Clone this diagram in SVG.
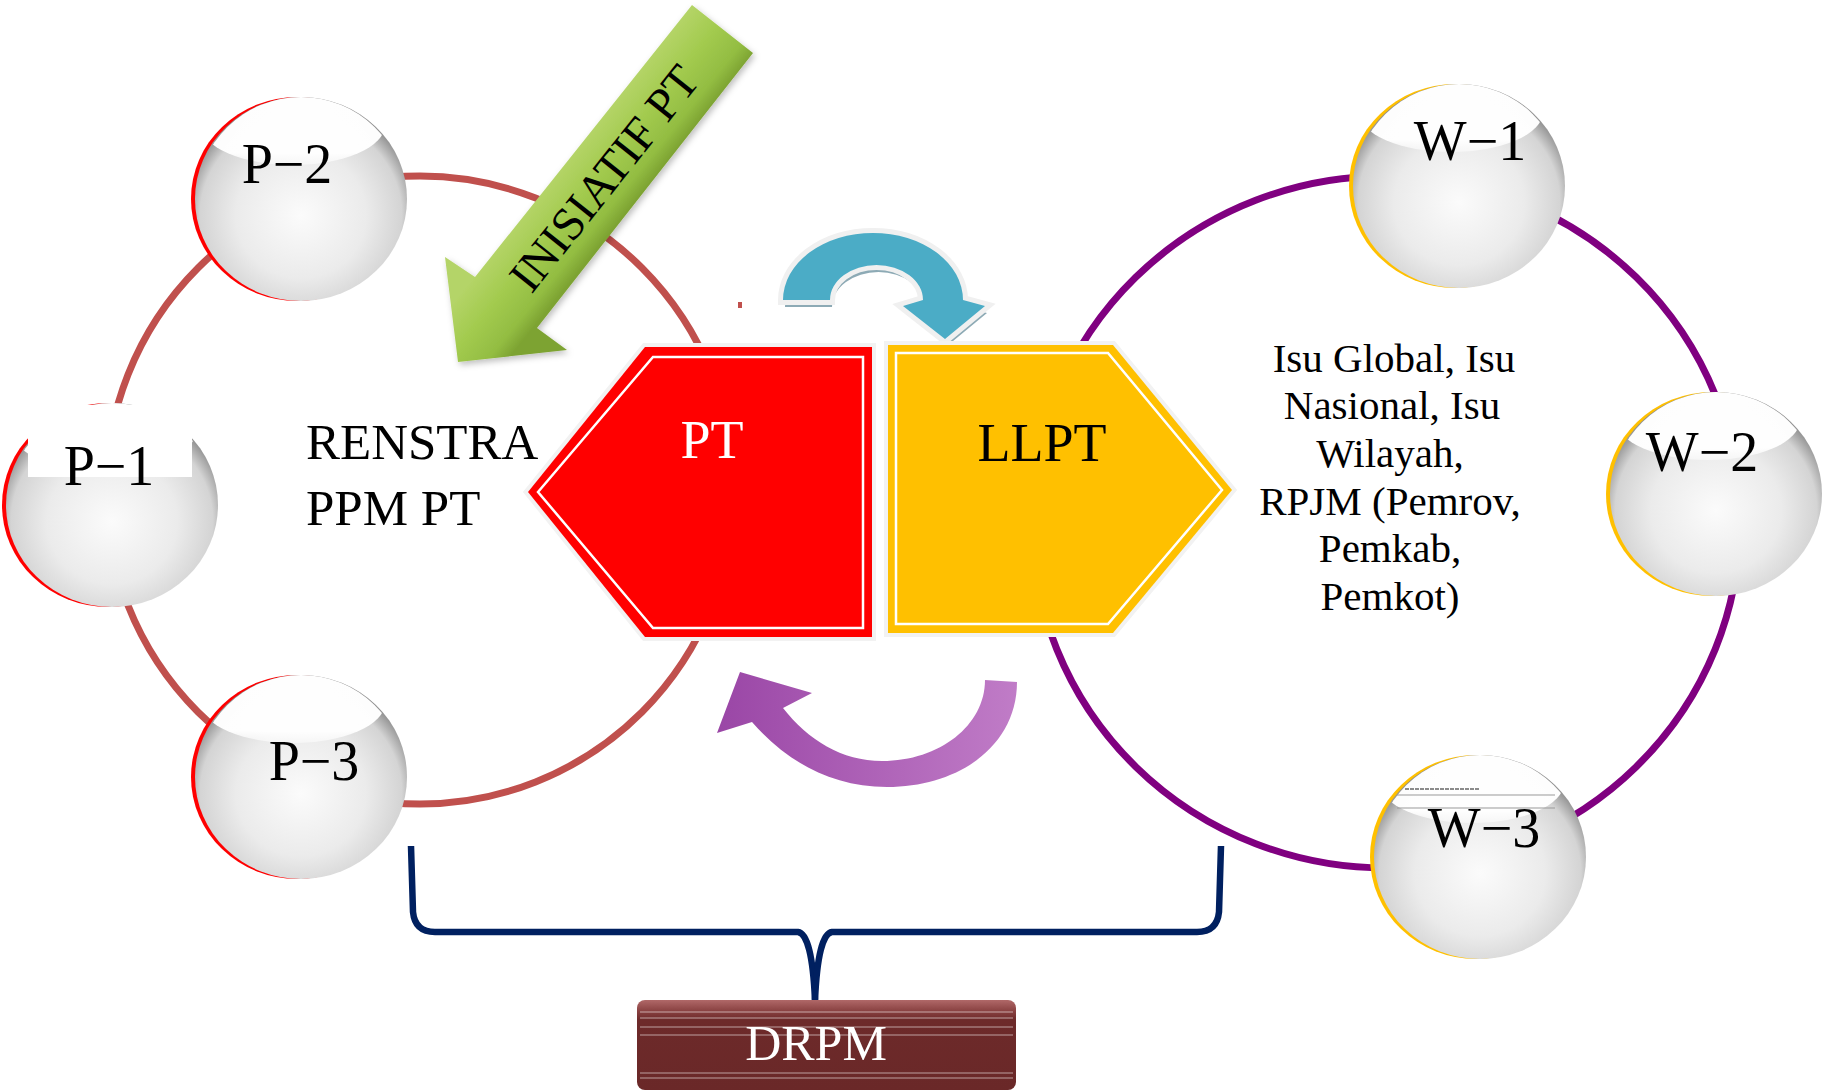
<svg xmlns="http://www.w3.org/2000/svg" xmlns:xlink="http://www.w3.org/1999/xlink" width="1823" height="1091" viewBox="0 0 1823 1091">
  <style>
    .serif { font-family: "Liberation Serif", "Times New Roman", serif; }
    .ball-label { font-family: "Liberation Serif", serif; font-size: 56px; fill: #000; text-anchor: middle; }
    .ring-p { fill: none; stroke: #C0504D; stroke-width: 7; }
    .ring-w { fill: none; stroke: #800080; stroke-width: 7; }
    .brace { fill: none; stroke: #002060; stroke-width: 6.5; stroke-linejoin: round; }
    .side-text { font-family: "Liberation Serif", serif; font-size: 41px; fill: #000; text-anchor: middle; }
    .stripe { stroke: #ffffff; stroke-opacity: 0.28; stroke-width: 2; }
  </style>
  <defs>
    <radialGradient id="ballGrad" cx="0.5" cy="0.58" r="0.56">
      <stop offset="0" stop-color="#fbfbfb"/>
      <stop offset="0.55" stop-color="#ebebeb"/>
      <stop offset="0.85" stop-color="#d4d4d4"/>
      <stop offset="1" stop-color="#8c8c8c"/>
    </radialGradient>
    <linearGradient id="hiGrad" x1="0" y1="0" x2="0" y2="1">
      <stop offset="0" stop-color="#ffffff" stop-opacity="1"/>
      <stop offset="0.85" stop-color="#ffffff" stop-opacity="0.97"/>
      <stop offset="1" stop-color="#ffffff" stop-opacity="0.5"/>
    </linearGradient>
    <clipPath id="ballClip">
      <ellipse cx="0" cy="0" rx="104" ry="102"/>
    </clipPath>
    <g id="ball">
      <ellipse cx="0" cy="0" rx="106" ry="102" fill="url(#ballGrad)"/>
      <ellipse cx="-8" cy="-74" rx="92" ry="40" fill="url(#hiGrad)" clip-path="url(#ballClip)"/>
    </g>
    <linearGradient id="greenGrad" gradientUnits="userSpaceOnUse" x1="576" y1="150" x2="637" y2="199">
      <stop offset="0" stop-color="#b4d467"/>
      <stop offset="0.4" stop-color="#a3cb4f"/>
      <stop offset="0.8" stop-color="#93bd42"/>
      <stop offset="1" stop-color="#7da332"/>
    </linearGradient>
    <linearGradient id="purpleGrad" x1="0" y1="0" x2="1" y2="0">
      <stop offset="0" stop-color="#9a46a6"/>
      <stop offset="1" stop-color="#c07cc7"/>
    </linearGradient>
    <linearGradient id="drpmGrad" x1="0" y1="0" x2="0" y2="1">
      <stop offset="0" stop-color="#b06868"/>
      <stop offset="0.12" stop-color="#8a4242"/>
      <stop offset="0.22" stop-color="#6d2a2a"/>
      <stop offset="1" stop-color="#6a2828"/>
    </linearGradient>
    <filter id="soft" x="-10%" y="-10%" width="120%" height="120%">
      <feDropShadow dx="2" dy="3" stdDeviation="3" flood-color="#000" flood-opacity="0.25"/>
    </filter>
    <path id="blueArrow" d="M783,300 A90,67 0 0 1 963,300 L985,306 L945,339 L903,306 L923,300 A46.5,35 0 0 0 830,300 Z"/>
  </defs>

  <!-- rings and brace (connectors) -->
  <g id="connectors">
    <circle class="ring-p" cx="420" cy="490" r="314"/>
    <ellipse class="ring-w" cx="1386" cy="522" rx="354" ry="346"/>
    <path class="brace" d="M411,846 L413,912 Q415,932 435,932 L798,932 Q812,934 815,1000"/>
    <path class="brace" d="M1221,846 L1219,912 Q1217,932 1197,932 L832,932 Q818,934 815,1000"/>
  </g>

  <!-- blue curved arrow -->
  <g id="arrow-blue">
    <use xlink:href="#blueArrow" fill="#8DAAB5" transform="translate(2,7)"/>
    <use xlink:href="#blueArrow" fill="#4BACC6" stroke="#F0F0F0" stroke-width="10" paint-order="stroke" stroke-linejoin="miter"/>
  </g>
  <rect x="738" y="302" width="4" height="6" fill="#C0504D"/>

  <!-- green arrow -->
  <g id="arrow-inisiatif">
    <polygon points="692,5 753,53 537,328 567,350 458,362 445,257 475,277" fill="url(#greenGrad)" filter="url(#soft)"/>
    <text class="serif" x="604" y="178" font-size="47" text-anchor="middle" dominant-baseline="central" transform="rotate(-51.5 604 178)">INISIATIF PT</text>
  </g>

  <!-- PT -->
  <g id="node-PT">
    <polygon points="528,492 645,347 872,347 872,637 645,637" fill="#FF0000" stroke="#F2F2F2" stroke-width="8" paint-order="stroke"/>
    <polygon points="538,492 653,357 863,357 863,628 653,628" fill="none" stroke="#ffffff" stroke-width="2.5"/>
    <text class="serif" x="712" y="458" font-size="54" fill="#ffffff" text-anchor="middle">PT</text>
  </g>

  <!-- LLPT -->
  <g id="node-LLPT">
    <polygon points="888,345 1113,345 1232,490 1113,633 888,633" fill="#FFC000" stroke="#F2F2F2" stroke-width="8" paint-order="stroke"/>
    <polygon points="896,353 1108,353 1222,490 1108,624 896,624" fill="none" stroke="#ffffff" stroke-width="2.5"/>
    <text class="serif" x="1042" y="461" font-size="54" fill="#000" text-anchor="middle">LLPT</text>
  </g>

  <!-- purple curved arrow -->
  <g id="arrow-purple">
    <path d="M985,680 L1017,682 C1017,745 960,787 887,787 C830,787 785,760 752,722 L717,733 L740,672 L812,693 L783,708 C808,740 842,761 882,761 C940,761 985,725 985,680 Z" fill="url(#purpleGrad)"/>
  </g>

  <!-- RENSTRA text -->
  <g id="node-renstra">
    <text class="serif" x="306" y="459" font-size="51" fill="#000">RENSTRA</text>
    <text class="serif" x="306" y="525" font-size="51" fill="#000">PPM PT</text>
  </g>

  <!-- Isu text -->
  <g id="node-isu">
    <text class="side-text" x="1394" y="372">Isu Global, Isu</text>
    <text class="side-text" x="1392" y="419">Nasional, Isu</text>
    <text class="side-text" x="1390" y="467">Wilayah,</text>
    <text class="side-text" x="1390" y="515">RPJM (Pemrov,</text>
    <text class="side-text" x="1390" y="562">Pemkab,</text>
    <text class="side-text" x="1390" y="610">Pemkot)</text>
  </g>

  <!-- P spheres -->
  <g id="node-P2" transform="translate(301,199)">
    <ellipse cx="-4" cy="0" rx="106" ry="102" fill="#FF0000"/>
    <use xlink:href="#ball"/>
    <text class="ball-label" x="-14" y="-16">P−2</text>
  </g>
  <g id="node-P1" transform="translate(112,505)">
    <ellipse cx="-4" cy="0" rx="106" ry="102" fill="#FF0000"/>
    <use xlink:href="#ball"/>
    <rect x="-84" y="-100" width="164" height="72" fill="#ffffff"/>
    <text class="ball-label" x="-3" y="-20">P−1</text>
  </g>
  <g id="node-P3" transform="translate(301,777)">
    <ellipse cx="-4" cy="0" rx="106" ry="102" fill="#FF0000"/>
    <use xlink:href="#ball"/>
    <text class="ball-label" x="13" y="3">P−3</text>
  </g>

  <!-- W spheres -->
  <g id="node-W1" transform="translate(1459,186)">
    <ellipse cx="-4" cy="0" rx="106" ry="102" fill="#FFC000"/>
    <use xlink:href="#ball"/>
    <text class="ball-label" x="11" y="-26">W−1</text>
  </g>
  <g id="node-W2" transform="translate(1716,494)">
    <ellipse cx="-4" cy="0" rx="106" ry="102" fill="#FFC000"/>
    <use xlink:href="#ball"/>
    <text class="ball-label" x="-14" y="-23">W−2</text>
  </g>
  <g id="node-W3" transform="translate(1480,857)">
    <ellipse cx="-4" cy="0" rx="106" ry="102" fill="#FFC000"/>
    <use xlink:href="#ball"/>
    <line x1="-75" y1="-68" x2="0" y2="-68" stroke="#666" stroke-width="1.5" stroke-dasharray="4 1"/>
    <line x1="-83" y1="-62" x2="75" y2="-62" stroke="#999" stroke-width="1"/>
    <line x1="-83" y1="-49" x2="75" y2="-49" stroke="#999" stroke-width="1"/>
    <text class="ball-label" x="4" y="-10">W−3</text>
  </g>

  <!-- DRPM -->
  <g id="node-DRPM">
    <rect x="637" y="1000" width="379" height="90" rx="8" fill="url(#drpmGrad)"/>
    <line class="stripe" x1="640" y1="1012" x2="1013" y2="1012"/>
    <line class="stripe" x1="640" y1="1018" x2="1013" y2="1018"/>
    <line class="stripe" x1="640" y1="1027" x2="1013" y2="1027"/>
    <line class="stripe" x1="640" y1="1035" x2="1013" y2="1035"/>
    <line class="stripe" x1="640" y1="1073" x2="1013" y2="1073"/>
    <line class="stripe" x1="640" y1="1078" x2="1013" y2="1078"/>
    <text class="serif" x="816" y="1060" font-size="50" fill="#ffffff" text-anchor="middle">DRPM</text>
  </g>
</svg>
